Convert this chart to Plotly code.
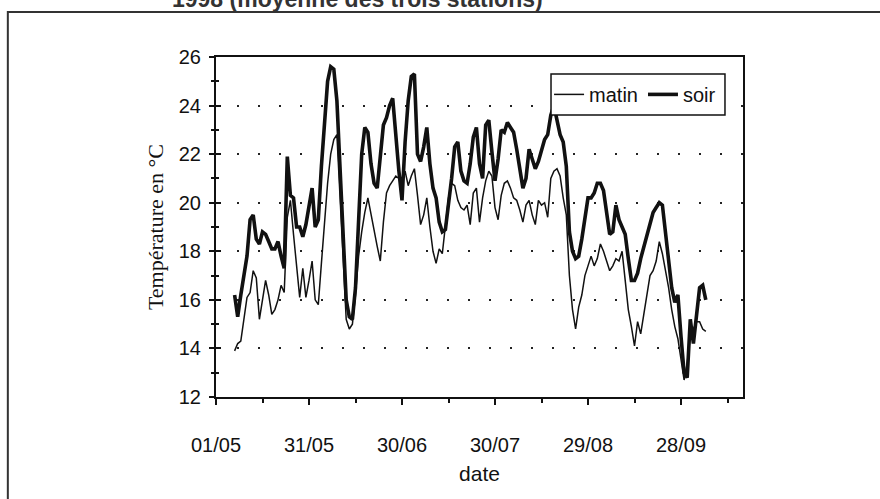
import pandas as pd
import plotly.graph_objects as go

# Daily temperatures (°C), 7 May to 6 October
start_date = "1998-05-07"
matin = [
    13.9, 14.2, 14.3, 15.2, 16.1, 16.3, 17.2, 16.9, 15.2, 16.0,
    16.8, 16.2, 15.4, 15.6, 16.0, 16.6, 16.3, 19.4, 20.1, 18.7,
    17.3, 16.1, 17.3, 16.1, 16.8, 17.6, 16.0, 15.8, 17.5, 19.2,
    20.8, 22.0, 22.6, 22.8, 20.3, 17.2, 15.2, 14.8, 15.0, 16.2,
    17.8, 18.8, 19.6, 20.2, 19.5, 18.8, 18.2, 17.6, 19.2, 20.4,
    20.7, 20.9, 21.1, 21.0, 20.8, 21.3, 20.7, 21.1, 21.4, 20.3,
    19.1, 19.5, 20.2, 19.0, 18.0, 17.5, 18.1, 17.9, 19.0, 20.2,
    20.8, 20.7, 20.1, 19.8, 19.7, 19.9, 19.1, 20.4, 20.6, 19.2,
    20.2, 20.9, 21.3, 21.1, 19.8, 19.3, 20.3, 20.8, 20.9, 20.6,
    20.2, 20.1, 19.7, 19.2, 19.9, 20.1, 19.5, 19.1, 20.1, 19.9,
    20.0, 19.4, 21.0, 21.3, 21.4, 21.1, 20.2, 19.5, 17.0, 15.6,
    14.8, 15.7, 16.2, 17.0, 17.4, 17.8, 17.4, 17.7, 18.3, 18.0,
    17.6, 17.2, 17.4, 17.7, 17.6, 18.0, 16.8, 15.6, 14.9, 14.1,
    15.1, 14.6, 15.4, 16.2, 17.0, 17.2, 17.6, 18.4, 17.9, 17.2,
    16.5, 15.6, 14.9, 14.4, 13.5, 12.7, 13.4, 14.5, 14.8, 15.1,
    15.1, 14.8, 14.7,
]
soir = [
    16.2, 15.3, 16.2, 16.9, 17.8, 19.3, 19.5, 18.5, 18.3, 18.8,
    18.7, 18.4, 18.1, 18.1, 18.4, 17.8, 17.3, 21.9, 20.3, 20.2,
    19.0, 19.0, 18.6, 19.1, 19.8, 20.6, 19.0, 19.3, 21.5, 23.5,
    25.0, 25.6, 25.5, 24.2, 21.5, 18.5, 16.0, 15.3, 15.2, 16.5,
    19.5, 22.0, 23.1, 22.9, 21.6, 20.8, 20.6, 21.9, 23.2, 23.5,
    24.0, 24.3, 22.7, 21.3, 20.1, 22.5, 24.2, 25.2, 25.3, 22.0,
    21.7, 22.3, 23.1, 21.6, 20.6, 20.2, 19.2, 18.8, 18.9, 19.9,
    21.0, 22.3, 22.5, 21.3, 20.9, 20.8, 21.6, 22.7, 23.1, 21.6,
    21.0, 23.2, 23.4, 22.1, 20.9, 21.8, 23.0, 22.9, 23.3, 23.1,
    22.9, 22.2, 21.4, 20.6, 21.0, 22.2, 21.8, 21.4, 21.7, 22.1,
    22.6, 22.8, 23.6, 24.0, 23.3, 22.8, 22.5, 21.5, 18.8, 18.0,
    17.7, 17.8, 18.5, 19.4, 20.2, 20.2, 20.4, 20.8, 20.8, 20.5,
    19.6, 18.7, 18.8, 19.9, 19.3, 19.0, 18.7, 17.7, 16.8, 16.8,
    17.1, 17.7, 18.2, 18.6, 19.1, 19.6, 19.8, 20.0, 19.9, 18.8,
    17.6, 16.5, 15.9, 16.2, 14.5, 13.0, 12.8, 15.2, 14.2, 15.5,
    16.5, 16.6, 16.0,
]
dates = pd.date_range(start_date, periods=len(soir), freq="D")

x_range = ["1998-05-01", "1998-10-18"]
y_range = [12, 26]
DAY_MS = 86400000
caption = "1998 (moyenne des trois stations)"

FONT = "Liberation Sans, Arial, sans-serif"
INK = "#111111"

fig = go.Figure()
fig.add_trace(go.Scatter(x=dates, y=matin, name="matin", mode="lines",
                         line=dict(color=INK, width=1.5)))
fig.add_trace(go.Scatter(x=dates, y=soir, name="soir", mode="lines",
                         line=dict(color=INK, width=3.6)))
# invisible trace carrying the secondary y axis (inner half of crossing ticks)
fig.add_trace(go.Scatter(x=[dates[0]], y=[y_range[0]], yaxis="y2", mode="lines",
                         showlegend=False, hoverinfo="skip",
                         line=dict(color="rgba(0,0,0,0)")))

fig.update_layout(
    width=880, height=499,
    margin=dict(l=216, r=137, t=57, b=102),
    paper_bgcolor="white", plot_bgcolor="white",
    font=dict(family=FONT, size=20, color=INK),
    showlegend=True,
    legend=dict(orientation="h", x=0.632, y=0.89, xanchor="left", yanchor="middle",
                bgcolor="rgba(0,0,0,0)", borderwidth=0, itemwidth=30,
                font=dict(size=20, family=FONT, color=INK), tracegroupgap=0),
    xaxis=dict(
        type="date", range=x_range,
        tick0="1998-05-01", dtick=30 * DAY_MS, tickformat="%d/%m",
        ticks="outside", ticklen=6, tickwidth=1.5, tickcolor=INK,
        minor=dict(ticks="outside", dtick=15 * DAY_MS, tick0="1998-05-01",
                   ticklen=4, tickwidth=1.5, tickcolor=INK, showgrid=False),
        showline=True, linecolor=INK, linewidth=2, mirror=True,
        showgrid=False, zeroline=False,
        ticklabelstandoff=23,
        title=dict(text="date", standoff=11, font=dict(size=21, family=FONT)),
    ),
    yaxis=dict(
        range=y_range, dtick=2, tick0=12,
        ticks="outside", ticklen=5, tickwidth=1.5, tickcolor=INK,
        minor=dict(ticks="outside", dtick=1, ticklen=3, tickwidth=1.5,
                   tickcolor=INK, showgrid=False),
        showline=True, linecolor=INK, linewidth=2, mirror=True,
        showgrid=True, gridcolor="#222222", gridwidth=2, griddash="2px,19px",
        zeroline=False, ticklabelstandoff=4,
        title=dict(text="Température en °C", standoff=9,
                   font=dict(family="Liberation Serif, Times New Roman, serif", size=22)),
    ),
    yaxis2=dict(
        range=y_range, dtick=2, tick0=12, overlaying="y", side="left",
        ticks="inside", ticklen=5, tickwidth=1.5, tickcolor=INK,
        minor=dict(ticks="inside", dtick=1, ticklen=3, tickwidth=1.5, tickcolor=INK),
        showticklabels=False, showgrid=False, zeroline=False, showline=False,
    ),
    shapes=[
        # legend box drawn over the curves
        dict(type="rect", xref="paper", yref="paper", layer="above",
             x0=0.6357, x1=0.9658, y0=0.8294, y1=0.95,
             fillcolor="white", line=dict(color=INK, width=1.5)),
        # outer frame of the figure
        dict(type="rect", xref="paper", yref="paper", layer="below",
             x0=-0.395, x1=1.35, y0=-0.4, y1=1.1324,
             fillcolor="rgba(0,0,0,0)", line=dict(color="#333333", width=2)),
    ],
    annotations=[
        # caption line above the frame, running off the top of the page
        dict(text="<b>" + caption + "</b>", xref="paper", yref="paper",
             x=-0.087, y=1.172, xanchor="left", yanchor="middle", showarrow=False,
             font=dict(family="Liberation Sans, Arial, sans-serif", size=23, color="#333333")),
    ],
)

fig.write_html("out.html")
